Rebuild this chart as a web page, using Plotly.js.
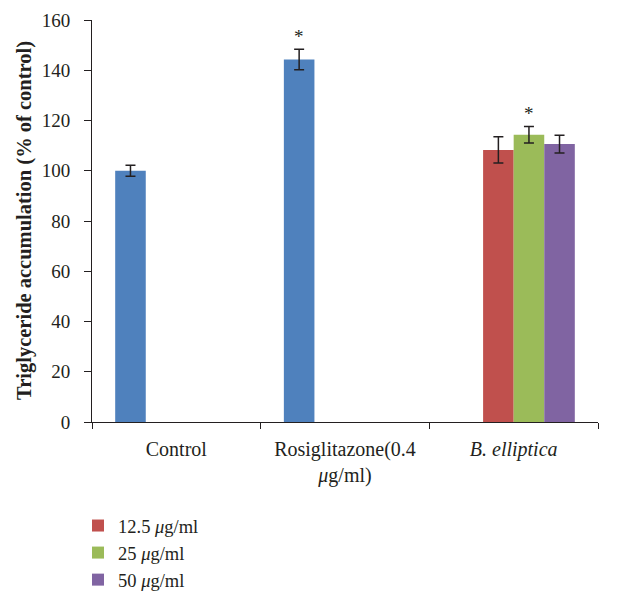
<!DOCTYPE html>
<html>
<head>
<meta charset="utf-8">
<script src="https://cdn.plot.ly/plotly-3.0.1.min.js"></script>
<style>html,body{margin:0;padding:0;background:#fff;}#chart{width:618px;height:591px;}</style>
</head>
<body>
<div id="chart"></div>
<script>
// ---- data ----
const categories = ["Control", "Rosiglitazone(0.4<br><i>μ</i>g/ml)", "<i>B. elliptica</i>"];
const refCats = ["Control", "Rosiglitazone(0.4<br><i>μ</i>g/ml)"];
const refValues = [100, 144.3];
const refErrors = [2.2, 4.1];
const doseNames = ["12.5 <i>μ</i>g/ml", "25 <i>μ</i>g/ml", "50 <i>μ</i>g/ml"];
const doseValues = [108.3, 114.3, 110.6];
const doseErrors = [5.2, 3.3, 3.5];
const refSignificant = [false, true];
const doseSignificant = [false, true, false];
const yTicks = [0, 20, 40, 60, 80, 100, 120, 140, 160];
const yTitle = "Triglyceride accumulation (% of control)";

// ---- style ----
const colors = ["#4F81BD", "#C0504D", "#9BBB59", "#8064A2"];
const FONT = "Liberation Serif, Times New Roman, serif";
const TXT = "#231F20";
const errStyle = {type: "data", visible: true, color: "#231F20", thickness: 1.5, width: 5};
const bargap = 0.275;
const nSlots = 4;
const M = {l: 92, r: 20, t: 20, b: 169};

const traces = [];
traces.push({
  type: "bar", x: refCats, y: refValues, name: "Treatment", showlegend: false,
  marker: {color: colors[0], line: {width: 0}},
  error_y: Object.assign({array: refErrors}, errStyle),
  hoverinfo: "skip"
});
doseNames.forEach((n, i) => {
  traces.push({
    type: "bar", x: [categories[2]], y: [doseValues[i]], name: n,
    legendgroup: "g" + i,
    marker: {color: colors[i + 1], line: {width: 0}},
    error_y: Object.assign({array: [doseErrors[i]]}, errStyle),
    hoverinfo: "skip"
  });
});

// asterisk annotations placed above the error bars of significant bars
const plotW = 618 - M.l - M.r;
const catW = plotW / categories.length;
const slotW = catW * (1 - bargap) / nSlots;
function slotShift(slot) { return (slot - (nSlots - 1) / 2) * slotW; }
const annotations = [];
refSignificant.forEach((s, i) => {
  if (s) annotations.push({x: refCats[i], y: refValues[i] + refErrors[i], xshift: slotShift(0),
    yshift: 13, text: "*", showarrow: false, font: {family: FONT, size: 19, color: TXT}});
});
doseSignificant.forEach((s, i) => {
  if (s) annotations.push({x: categories[2], y: doseValues[i] + doseErrors[i], xshift: slotShift(i + 1),
    yshift: 13, text: "*", showarrow: false, font: {family: FONT, size: 19, color: TXT}});
});
// y-axis title
annotations.push({
  xref: "paper", yref: "paper", x: (24 - M.l) / plotW, y: 0.5,
  xanchor: "center", yanchor: "middle", textangle: -90, showarrow: false,
  text: "<b>" + yTitle + "</b>", font: {family: FONT, size: 20.5, color: TXT}
});

const layout = {
  width: 618, height: 591,
  margin: {l: M.l, r: M.r, t: M.t, b: M.b, autoexpand: false},
  paper_bgcolor: "#fff", plot_bgcolor: "#fff",
  barmode: "group", bargap: bargap, bargroupgap: 0,
  font: {family: FONT, size: 19, color: TXT},
  xaxis: {
    type: "category", categoryorder: "array", categoryarray: categories,
    showline: true, linecolor: "#231F20", linewidth: 1,
    ticks: "outside", tickson: "boundaries", ticklen: 6, tickcolor: "#231F20",
    showgrid: false, zeroline: false, fixedrange: true,
    tickfont: {family: FONT, size: 20, color: TXT}, ticklabelstandoff: 9
  },
  yaxis: {
    range: [0, 160], tickvals: yTicks, ticktext: yTicks.map(String),
    showline: true, linecolor: "#231F20", linewidth: 1,
    ticks: "outside", ticklen: 7, tickcolor: "#231F20",
    showgrid: false, zeroline: false, fixedrange: true,
    tickfont: {family: FONT, size: 19, color: TXT}, ticklabelstandoff: 10
  },
  showlegend: true,
  legend: {
    xref: "container", yref: "container", x: 78 / 618, y: 1 - 507 / 591,
    xanchor: "left", yanchor: "top", orientation: "v",
    traceorder: "grouped", tracegroupgap: 0,
    font: {family: FONT, size: 18.5, color: TXT}, bgcolor: "rgba(0,0,0,0)",
    itemwidth: 30
  },
  annotations: annotations
};

Plotly.newPlot("chart", traces, layout, {staticPlot: true, displayModeBar: false});
</script>
</body>
</html>
